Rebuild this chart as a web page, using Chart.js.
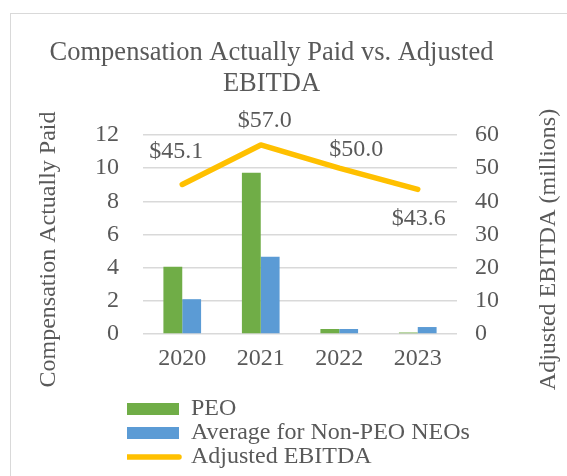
<!DOCTYPE html>
<html>
<head>
<meta charset="utf-8">
<script src="https://cdn.jsdelivr.net/npm/chart.js@4"></script>
<style>
  html, body { margin: 0; padding: 0; background: #fff; overflow: hidden; }
  #frame {
    position: absolute; left: 10px; top: 13px;
    width: 620px; height: 520px;
    border: 1.5px solid #d9d9d9;
  }
  #chart { position: absolute; left: 0; top: 0; }
</style>
</head>
<body>
<div id="frame"></div>
<canvas id="chart" width="567" height="476"></canvas>
<script>
// ── Data ──────────────────────────────────────────────────────────────────────
const years = ["2020", "2021", "2022", "2023"];
const peoValues = [4.05, 9.72, 0.3, 0.09];
const neoValues = [2.1, 4.66, 0.3, 0.42];
const ebitdaValues = [45.1, 57.0, 50.0, 43.6];

const leftTitle = "Compensation Actually Paid";
const rightTitle = "Adjusted EBITDA (millions)";

// ── Styling ───────────────────────────────────────────────────────────────────
const FONT = "'Liberation Serif', 'Times New Roman', serif";
const TXT = "#595959";
const GRID = "#d9d9d9";

// label offsets from each EBITDA point (Excel placed them by hand)
const labelOffsets = [[-6, -33], [4, -24], [17, -18], [1, 29]];

// Data labels + axis titles that read bottom-to-top on both sides
const overlayText = {
  id: "overlayText",
  afterLayout(chart) {
    // legend sits a bit left of the plot, like the Excel one
    const lg = chart.legend;
    lg.left = 127;
    lg.right = chart.width;
    lg.width = lg.right - lg.left;
    lg.top += 3;
    lg.bottom += 3;
  },
  afterDatasetsDraw(chart) {
    const { ctx, chartArea } = chart;
    const meta = chart.getDatasetMeta(2);
    ctx.save();
    ctx.font = `24px ${FONT}`;
    ctx.fillStyle = TXT;
    ctx.textAlign = "center";
    ctx.textBaseline = "middle";
    meta.data.forEach((pt, i) => {
      const [dx, dy] = labelOffsets[i];
      ctx.fillText("$" + ebitdaValues[i].toFixed(1), pt.x + dx, pt.y + dy);
    });
    const midY = (chartArea.top + chartArea.bottom) / 2 + 15;
    [[49, leftTitle], [549, rightTitle]].forEach(([x, t]) => {
      ctx.save();
      ctx.translate(x, midY);
      ctx.rotate(-Math.PI / 2);
      ctx.fillText(t, 0, 0);
      ctx.restore();
    });
    ctx.restore();
  },
};

new Chart(document.getElementById("chart"), {
  type: "bar",
  data: {
    labels: years,
    datasets: [
      {
        label: "PEO",
        data: peoValues,
        backgroundColor: "#70ad47",
        borderWidth: 0,
        yAxisID: "y",
        barPercentage: 1,
        categoryPercentage: 0.48,
      },
      {
        label: "Average for Non-PEO NEOs",
        data: neoValues,
        backgroundColor: "#5b9bd5",
        borderWidth: 0,
        yAxisID: "y",
        barPercentage: 1,
        categoryPercentage: 0.48,
      },
      {
        type: "line",
        label: "Adjusted EBITDA",
        data: ebitdaValues,
        borderColor: "#ffc000",
        backgroundColor: "#ffc000",
        borderWidth: 5.5,
        borderCapStyle: "round",
        borderJoinStyle: "round",
        pointRadius: 0,
        tension: 0,
        yAxisID: "y1",
      },
    ],
  },
  options: {
    responsive: false,
    animation: false,
    layout: { padding: { left: 0, right: 24, top: 0, bottom: 0 } },
    plugins: {
      title: {
        display: true,
        text: ["Compensation Actually Paid vs. Adjusted", "EBITDA"],
        color: TXT,
        font: { family: FONT, size: 26.5, weight: "normal", lineHeight: 1.17 },
        padding: { top: 38, bottom: 35 },
      },
      legend: {
        position: "bottom",
        align: "start",
        fullSize: false,
        labels: {
          color: TXT,
          font: { family: FONT, size: 24 },
          usePointStyle: true,
          pointStyleWidth: 52,
          boxHeight: 12,
          padding: 0,
          generateLabels(chart) {
            const items = Chart.defaults.plugins.legend.labels.generateLabels(chart);
            items.forEach(it => {
              const ds = chart.data.datasets[it.datasetIndex];
              if (ds.type === "line") {
                it.pointStyle = "line";
                it.lineWidth = 5.5;
                it.lineCap = "round";
                it.strokeStyle = ds.borderColor;
              } else {
                it.pointStyle = "rect";
                it.lineWidth = 0;
              }
            });
            return items;
          },
        },
      },
      tooltip: { enabled: false },
    },
    scales: {
      x: {
        grid: { display: false },
        border: { display: false },
        ticks: { color: TXT, font: { family: FONT, size: 24 }, padding: 2 },
        afterFit: s => { s.height = 60; },
      },
      y: {
        position: "left",
        min: 0,
        max: 12,
        ticks: { stepSize: 2, color: TXT, font: { family: FONT, size: 24 }, padding: 24 },
        grid: { color: GRID, lineWidth: 1.5, drawTicks: false },
        border: { display: false },
        afterFit: s => { s.width = 143; },
      },
      y1: {
        position: "right",
        min: 0,
        max: 60,
        ticks: { stepSize: 10, color: TXT, font: { family: FONT, size: 24 }, padding: 18 },
        grid: { display: false, drawTicks: false },
        border: { display: false },
        afterFit: s => { s.width = 86; },
      },
    },
  },
  plugins: [overlayText],
});
</script>
</body>
</html>
